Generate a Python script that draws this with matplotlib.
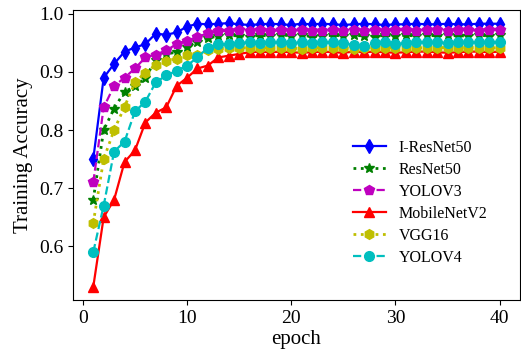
import matplotlib
matplotlib.use("Agg")
import matplotlib.pyplot as plt

epochs = list(range(1, 41))

i_resnet50 = [0.75, 0.89, 0.914, 0.935, 0.942, 0.948, 0.966, 0.964, 0.968, 0.978,
              0.983, 0.982, 0.983, 0.984, 0.982, 0.981, 0.982, 0.983, 0.982, 0.981,
              0.983, 0.982, 0.983, 0.982, 0.981, 0.982, 0.983, 0.982, 0.981, 0.982,
              0.982, 0.983, 0.982, 0.982, 0.983, 0.982, 0.982, 0.983, 0.983, 0.983]
resnet50 = [0.68, 0.80, 0.837, 0.866, 0.875, 0.89, 0.921, 0.931, 0.934, 0.943,
            0.952, 0.958, 0.962, 0.963, 0.962, 0.961, 0.963, 0.962, 0.964, 0.962,
            0.963, 0.961, 0.962, 0.963, 0.962, 0.963, 0.962, 0.961, 0.963, 0.962,
            0.963, 0.962, 0.963, 0.962, 0.963, 0.962, 0.962, 0.963, 0.962, 0.963]
yolov3 = [0.71, 0.839, 0.876, 0.89, 0.906, 0.925, 0.930, 0.937, 0.948, 0.954,
          0.96, 0.967, 0.97, 0.971, 0.972, 0.971, 0.972, 0.970, 0.972, 0.971,
          0.972, 0.971, 0.970, 0.972, 0.971, 0.972, 0.971, 0.972, 0.971, 0.972,
          0.972, 0.971, 0.972, 0.972, 0.971, 0.972, 0.972, 0.971, 0.972, 0.972]
mobilenetv2 = [0.53, 0.65, 0.68, 0.745, 0.765, 0.813, 0.83, 0.839, 0.876, 0.89,
               0.906, 0.911, 0.925, 0.928, 0.931, 0.934, 0.935, 0.934, 0.935, 0.934,
               0.933, 0.934, 0.935, 0.934, 0.933, 0.935, 0.934, 0.935, 0.934, 0.933,
               0.934, 0.935, 0.935, 0.934, 0.933, 0.934, 0.935, 0.935, 0.934, 0.935]
vgg16 = [0.64, 0.75, 0.80, 0.84, 0.882, 0.899, 0.912, 0.919, 0.923, 0.93,
         0.929, 0.937, 0.94, 0.941, 0.942, 0.941, 0.942, 0.941, 0.942, 0.941,
         0.940, 0.942, 0.941, 0.942, 0.941, 0.940, 0.942, 0.941, 0.942, 0.942,
         0.941, 0.942, 0.941, 0.942, 0.942, 0.941, 0.942, 0.942, 0.941, 0.942]
yolov4 = [0.59, 0.67, 0.763, 0.78, 0.832, 0.849, 0.882, 0.894, 0.902, 0.911,
          0.925, 0.942, 0.948, 0.948, 0.950, 0.951, 0.950, 0.951, 0.952, 0.950,
          0.951, 0.950, 0.952, 0.951, 0.950, 0.946, 0.945, 0.950, 0.951, 0.948,
          0.950, 0.951, 0.952, 0.951, 0.950, 0.951, 0.952, 0.951, 0.951, 0.952]

plt.rcParams["font.family"] = ["Liberation Serif", "DejaVu Serif"]

fig = plt.figure(figsize=(5.21, 3.56), dpi=100)
ax = fig.add_axes([0.140, 0.157, 0.858, 0.815])

ms = 7
ax.plot(epochs, i_resnet50, color="b", linestyle="-", marker="d", ms=ms, lw=1.6, label="I-ResNet50")
ax.plot(epochs, resnet50, color="g", linestyle=":", marker="*", ms=ms, lw=2, label="ResNet50")
ax.plot(epochs, yolov3, color="m", linestyle="--", marker="p", ms=ms, lw=1.6, label="YOLOV3")
ax.plot(epochs, mobilenetv2, color="r", linestyle="-", marker="^", ms=ms, lw=1.6, label="MobileNetV2")
ax.plot(epochs, vgg16, color="y", linestyle=":", marker="h", ms=ms, lw=2, label="VGG16")
ax.plot(epochs, yolov4, color="c", linestyle="--", marker="o", ms=ms, lw=1.6, label="YOLOV4")

ax.set_xlabel("epoch", fontsize=15, labelpad=2)
ax.set_ylabel("Training Accuracy", fontsize=15)
ax.tick_params(labelsize=14)
ax.set_xticks([0, 10, 20, 30, 40])
ax.set_yticks([0.6, 0.7, 0.8, 0.9, 1.0])

ax.legend(loc="center right", bbox_to_anchor=(0.96, 0.335), frameon=False,
          fontsize=11.5, handlelength=2.1, labelspacing=0.38)

plt.savefig("out.png", dpi=100)
